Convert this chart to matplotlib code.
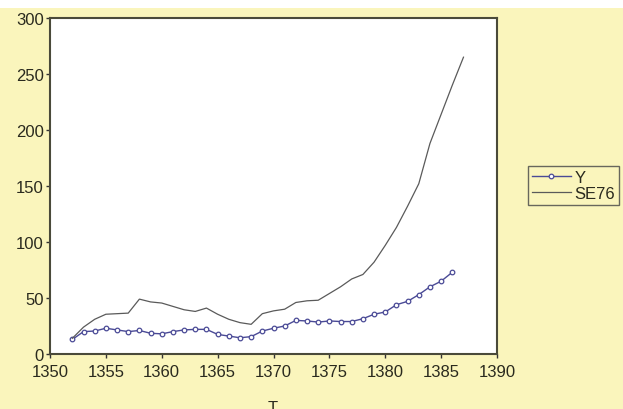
import matplotlib
matplotlib.use("Agg")
import matplotlib.pyplot as plt
from matplotlib.patches import Rectangle

plt.rcParams['font.family'] = ['Liberation Sans', 'DejaVu Sans']

years_y = list(range(1352, 1387))
y_vals = [13, 20, 20.5, 23, 21.5, 20, 21, 18.5, 18, 20,
          21.5, 22, 22, 17.5, 16, 14.5, 15.5, 20.5, 23, 25,
          30, 29.5, 28.5, 29.5, 29, 29, 31.5, 35.5, 37.5, 44,
          47, 53, 60, 65, 73]

years_se = list(range(1352, 1388))
se76_vals = [14, 24, 31, 35.5, 36, 36.5, 49, 46.5, 45.5, 42.5,
             39.5, 38, 41, 35.5, 31, 28, 26.5, 36, 38.5, 40,
             46, 47.5, 48, 54, 60, 67, 71, 82, 97, 113,
             132, 152, 188, 214, 240, 265]

x_ticks = [1350, 1355, 1360, 1365, 1370, 1375, 1380, 1385, 1390]
y_ticks = [0, 50, 100, 150, 200, 250, 300]

fig = plt.figure(figsize=(6.23, 4.10), dpi=100)
fig.patch.set_facecolor('#FAF5BC')
fig.patches.append(Rectangle((0, 1 - 9 / 410), 1, 9 / 410, transform=fig.transFigure,
                             facecolor='white', edgecolor='none', zorder=0))

ax = fig.add_axes([50 / 623, 1 - 355 / 410, 447 / 623, 336 / 410])
ax.set_facecolor('white')

ax.plot(years_y, y_vals, color='#4A4A96', linewidth=1.0, marker='o', markersize=3.3,
        markerfacecolor='white', markeredgecolor='#4A4A96', markeredgewidth=0.9, label='Y')
ax.plot(years_se, se76_vals, color='#5A5A5A', linewidth=0.9, label='SE76')

ax.set_xlim(1350, 1390)
ax.set_ylim(0, 300)
ax.set_xticks(x_ticks)
ax.set_yticks(y_ticks)
ax.tick_params(direction='out', length=3, width=1, colors='#333333', labelsize=12,
               labelcolor='#2A2A1E')
ax.tick_params(axis='y', pad=1.5)
ax.tick_params(axis='x', pad=4.5)
for s in ax.spines.values():
    s.set_color('#4A4A3A')
    s.set_linewidth(1.5)

leg = ax.legend(loc='upper left', bbox_to_anchor=(528 / 623, 1 - 167 / 410),
                bbox_transform=fig.transFigure, frameon=True, fancybox=False,
                fontsize=12, handlelength=2.3, handletextpad=0.25, borderpad=0.25,
                labelspacing=0.05, borderaxespad=0)
leg.get_frame().set_edgecolor('#444444')
leg.get_frame().set_linewidth(1.0)
leg.get_frame().set_facecolor('none')
for t in leg.get_texts():
    t.set_color('#2A2A1E')

fig.text(273 / 623, 1 - 401 / 410, 'T', ha='center', va='top', fontsize=12, color='#2A2A1E')

fig.savefig('out.png', dpi=100, facecolor=fig.get_facecolor())
